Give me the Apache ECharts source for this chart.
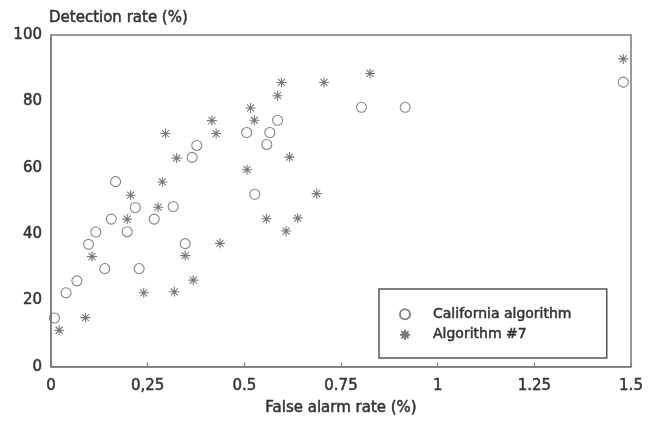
<!DOCTYPE html>
<html>
<head>
<meta charset="utf-8">
<script src="https://cdn.jsdelivr.net/npm/echarts@6/dist/echarts.min.js"></script>
<style>
  html, body { margin: 0; padding: 0; background: #fff; }
  #chart { width: 654px; height: 421px; }
</style>
</head>
<body>
<div id="chart"></div>
<script>
// values: [false alarm rate %, detection rate %]
const californiaPoints = [
  [0.009, 14.7], [0.039, 22.3], [0.067, 25.9], [0.097, 36.9], [0.116, 40.6],
  [0.139, 29.6], [0.156, 44.5], [0.167, 55.8], [0.197, 40.7], [0.218, 48.0],
  [0.228, 29.6], [0.267, 44.5], [0.316, 48.3], [0.347, 37.1], [0.365, 63.1],
  [0.377, 66.7], [0.506, 70.6], [0.527, 52.0], [0.558, 67.0], [0.566, 70.6],
  [0.586, 74.3], [0.803, 78.2], [0.916, 78.2], [1.48, 85.8],
]
const algorithm7Points = [
  [0.021, 11.0], [0.089, 14.8], [0.106, 33.2], [0.197, 44.5], [0.206, 51.7],
  [0.240, 22.3], [0.277, 48.1], [0.288, 55.7], [0.296, 70.3], [0.319, 22.6],
  [0.325, 62.9], [0.347, 33.5], [0.368, 26.1], [0.416, 74.2], [0.427, 70.3],
  [0.437, 37.2], [0.507, 59.4], [0.516, 78.0], [0.526, 74.3], [0.557, 44.6],
  [0.586, 81.7], [0.596, 85.7], [0.608, 40.9], [0.617, 63.2], [0.638, 44.8],
  [0.687, 52.2], [0.706, 85.7], [0.825, 88.4], [1.48, 92.8],
]
const xTickLabels = ['0', '0,25', '0.5', '0.75', '1', '1.25', '1.5']
const seriesNames = ['California algorithm', 'Algorithm #7']

const font = 'DejaVu Sans'
const ink = '#333'
const frame = '#7a7a7a'
// normal weight with a thin outline reads like the medium type of the scan
const text = {
  color: ink, fontFamily: font, fontSize: 15,
  textBorderColor: ink, textBorderWidth: 0.5,
}
// 8-spoke asterisk, stroked only
const starPath = 'path://M5,0L5,10M0,5L10,5M1.5,1.5L8.5,8.5M1.5,8.5L8.5,1.5'

const chart = echarts.init(document.getElementById('chart'), null, { renderer: 'canvas' })

chart.setOption({
  animation: false,
  backgroundColor: '#fff',
  grid: {
    left: 51, right: 23, top: 35, bottom: 49,
    show: true,
    borderColor: frame,
    borderWidth: 1.5,
  },
  legend: {
    orient: 'vertical',
    left: 379,
    top: 289,
    padding: [18, 35, 16, 20],
    borderColor: '#555',
    borderWidth: 1.5,
    itemWidth: 10,
    itemHeight: 10,
    itemGap: 6,
    data: [
      { name: seriesNames[0], icon: 'circle' },
      { name: seriesNames[1], icon: starPath },
    ],
    textStyle: { ...text, fontSize: 14, lineHeight: 10, padding: [0, 0, 0, 18] },
  },
  xAxis: {
    type: 'value',
    min: 0,
    max: 1.5,
    interval: 0.25,
    name: 'False alarm rate (%)',
    nameLocation: 'middle',
    nameGap: 34,
    nameTextStyle: text,
    axisLine: { show: true, lineStyle: { color: frame, width: 1.5 } },
    axisTick: { show: true, inside: true, length: 4, lineStyle: { color: frame, width: 1.2 } },
    splitLine: { show: false },
    axisLabel: {
      ...text,
      margin: 12,
      formatter: (v) => xTickLabels[Math.round(v / 0.25)],
    },
  },
  yAxis: {
    type: 'value',
    min: 0,
    max: 100,
    interval: 20,
    name: 'Detection rate (%)',
    nameLocation: 'end',
    nameGap: 9,
    nameTextStyle: { ...text, align: 'left', padding: [0, 0, 0, -2] },
    axisLine: { show: true, lineStyle: { color: frame, width: 1.5 } },
    axisTick: { show: false },
    splitLine: { show: false },
    axisLabel: { ...text, margin: 9 },
  },
  series: [
    {
      name: seriesNames[0],
      type: 'scatter',
      symbol: 'circle',
      symbolSize: 10,
      data: californiaPoints,
      itemStyle: { color: 'rgba(0,0,0,0)', borderColor: '#666', borderWidth: 1.1 },
      emphasis: { disabled: true },
    },
    {
      name: seriesNames[1],
      type: 'scatter',
      symbol: starPath,
      symbolSize: 10,
      symbolKeepAspect: true,
      data: algorithm7Points,
      itemStyle: { color: 'rgba(0,0,0,0)', borderColor: '#555', borderWidth: 1.1 },
      emphasis: { disabled: true },
    },
  ],
})
</script>
</body>
</html>
